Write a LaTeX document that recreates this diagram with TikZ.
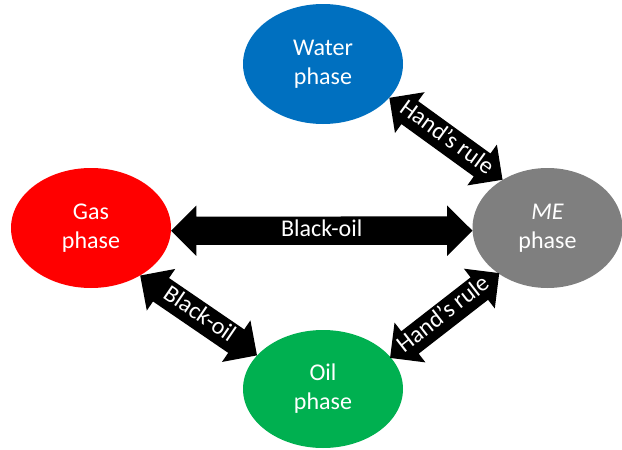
\documentclass[tikz,border=0pt]{standalone}
\usepackage{fontspec}
\setmainfont{Carlito}
\usetikzlibrary{shapes.geometric,shapes.arrows,calc}

\definecolor{waterblue}{HTML}{0070C0}
\definecolor{gasred}{HTML}{FF0000}
\definecolor{megray}{HTML}{7F7F7F}
\definecolor{oilgreen}{HTML}{00B050}

\tikzset{
  phase/.style={ellipse, fill=#1, text=white, align=center, inner sep=0pt,
    minimum width=160pt, minimum height=120pt,
    font=\fontsize{24}{29}\selectfont},
  blockarrow/.style={double arrow, fill=black, text=white,
    inner xsep=0pt, inner ysep=3.5pt, text height=16pt, text depth=5pt,
    double arrow head extend=11pt, double arrow tip angle=90,
    font=\fontsize{24}{28}\selectfont}
}

% fat two-headed arrow between two border points
\newcommand\linkphases[4]{%
  \path let \p1=(#2), \p2=(#3),
    \n1={atan2(\y2-\y1,\x2-\x1)}, \n2={veclen(\x2-\x1,\y2-\y1)} in
    node[blockarrow, rotate=\n1, minimum height=\n2] (#1)
      at ($(#2)!.5!(#3)$) {#4};}

\begin{document}
\begin{tikzpicture}[x=1pt,y=-1pt]
\useasboundingbox (0,0) rectangle (622,450);
% phases
\node[phase=waterblue] (water) at (323,64) {Water\\phase};
\node[phase=gasred] (gas) at (91,228) {Gas\\phase};
\node[phase=megray, minimum width=150pt] (me) at (547.5,228) {\textit{ME}\\phase};
\node[phase=oilgreen, minimum height=118pt] (oil) at (323,389) {Oil\\phase};
% links
\linkphases{gasme}{gas.-2}{me.182}{Black-oil}
\linkphases{waterme}{water.-27}{me.133}{Hand’s rule}
\linkphases{gasoil}{gas.-44}{oil.153}{Black-oil}
\linkphases{oilme}{oil.25}{me.223}{Hand’s rule}
\end{tikzpicture}
\end{document}
